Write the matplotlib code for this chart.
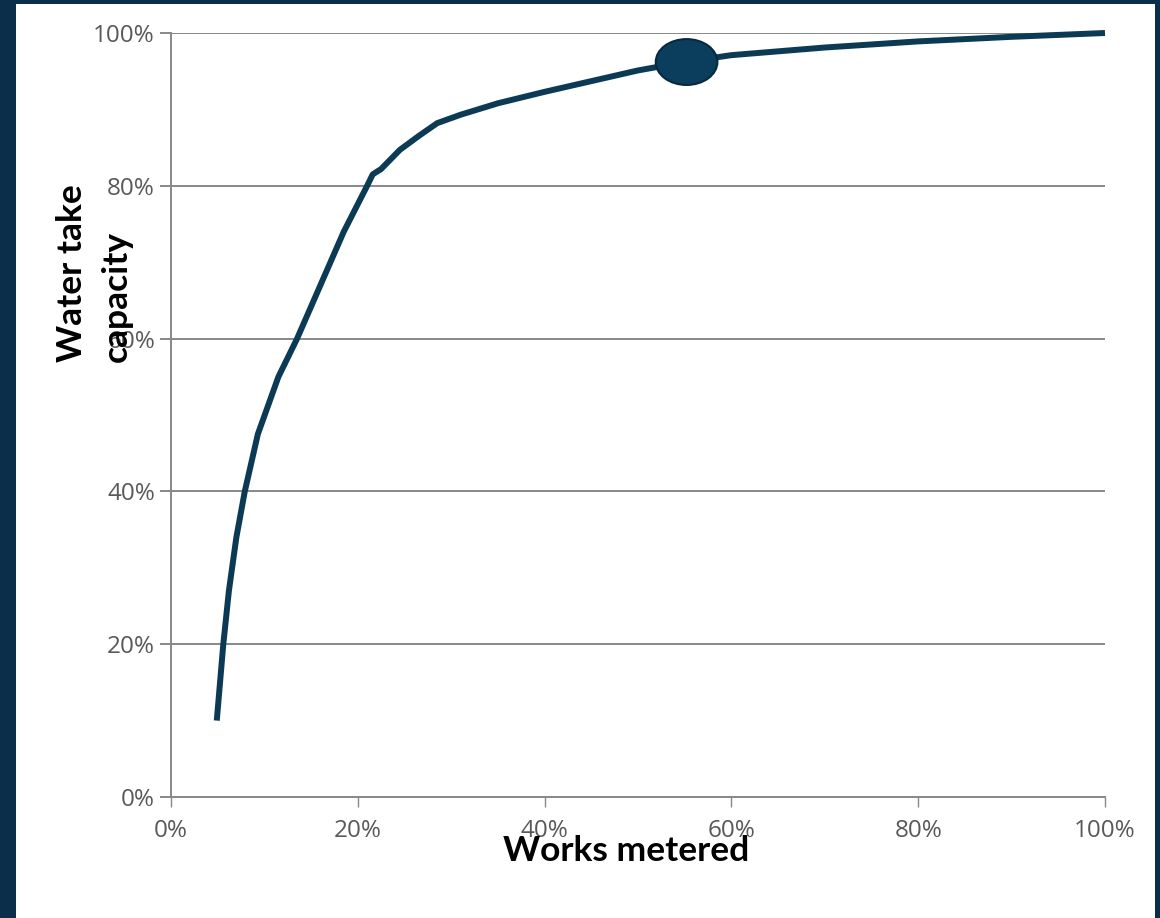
import matplotlib
matplotlib.use("Agg")
import matplotlib.pyplot as plt
from matplotlib.patches import Ellipse, Rectangle
from matplotlib.ticker import FuncFormatter

# ----------------------------
# Data (in %)
# ----------------------------
works = [4.9, 5.6, 6.2, 7.0, 7.9, 9.3, 11.5, 13.5, 16.0, 18.5, 21.0, 21.6,
         22.5, 24.5, 26.5, 28.5, 31.0, 35.0, 40.0, 45.0, 50.0, 55.0, 60.0,
         70.0, 80.0, 90.0, 100.0]
capacity = [10.0, 20.0, 27.0, 34.0, 40.0, 47.5, 55.0, 60.0, 67.0, 74.0, 80.0,
            81.5, 82.2, 84.7, 86.5, 88.2, 89.3, 90.8, 92.3, 93.7, 95.1, 96.2,
            97.1, 98.1, 98.9, 99.5, 100.0]

marker_x = 55.2
marker_y = 96.2

x_ticks = [0, 20, 40, 60, 80, 100]
y_ticks = [0, 20, 40, 60, 80, 100]

BORDER = "#0b2f4b"
LINE = "#0c3a55"
GRID = "#888888"
TICK_TXT = "#595959"

# ----------------------------
# Figure 1160x918
# ----------------------------
fig = plt.figure(figsize=(11.6, 9.18), dpi=100)
fig.patch.set_facecolor(BORDER)
fig.patches.append(Rectangle((16 / 1160, 0), (1155 - 16) / 1160, 914 / 918,
                             transform=fig.transFigure, facecolor="white",
                             edgecolor="none", zorder=-1))

ax = fig.add_axes([171 / 1160, 121 / 918, (1105 - 171) / 1160, (797 - 33) / 918])
ax.set_facecolor("none")

ax.set_xlim(0, 100)
ax.set_ylim(0, 100)

ax.set_xticks(x_ticks)
ax.set_yticks(y_ticks)
pct = FuncFormatter(lambda v, _: f"{v:.0f}%")
ax.xaxis.set_major_formatter(pct)
ax.yaxis.set_major_formatter(pct)

for s in ["top", "right"]:
    ax.spines[s].set_visible(False)
for s in ["left", "bottom"]:
    ax.spines[s].set_color(GRID)
    ax.spines[s].set_linewidth(1.4)

ax.yaxis.grid(True, color=GRID, linewidth=1.4)
ax.set_axisbelow(True)

ax.tick_params(axis="y", direction="out", length=8, width=1.4, color=GRID,
               pad=3.5, labelsize=17.5, labelcolor=TICK_TXT)
ax.tick_params(axis="x", direction="out", length=7, width=1.0, color=GRID,
               pad=9, labelsize=17.5, labelcolor=TICK_TXT)
for lab in ax.get_xticklabels() + ax.get_yticklabels():
    lab.set_family("Open Sans")

# ----------------------------
# Curve + highlight marker
# ----------------------------
ax.plot(works, capacity, color=LINE, linewidth=4.3, solid_capstyle="butt",
        solid_joinstyle="round", zorder=3, clip_on=False)

ax.add_patch(Ellipse((marker_x, marker_y), 6.6, 6.0, facecolor="#0b3e5d",
                     edgecolor="#06293f", linewidth=1.5, zorder=4, clip_on=False))

# ----------------------------
# Axis titles
# ----------------------------
fig.text(626 / 1160, 57 / 918, "Works metered", ha="center", va="baseline",
         fontsize=25.5, fontweight="bold", family="Lato", color="black")
fig.text(94 / 1160, (918 - 362) / 918, "Water take\ncapacity", rotation=90,
         ha="center", va="bottom", multialignment="left", linespacing=1.5,
         fontsize=25.5, fontweight="bold", family="Lato", color="black")

fig.savefig("out.png", dpi=100, facecolor=fig.get_facecolor())
